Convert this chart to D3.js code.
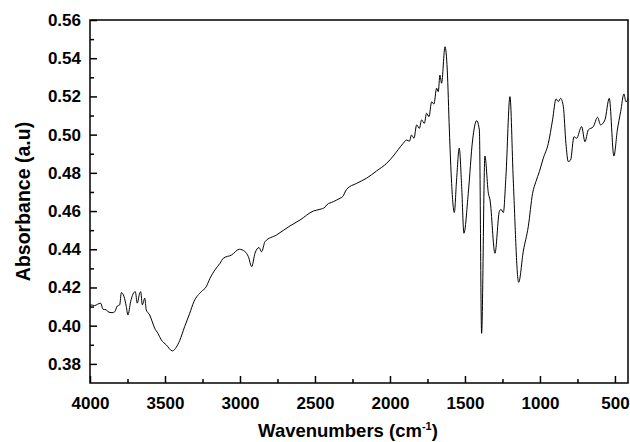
<!DOCTYPE html>
<html>
<head>
<meta charset="utf-8">
<script src="https://cdn.jsdelivr.net/npm/d3@7"></script>
<style>
  body { margin: 0; background: #fff; overflow: hidden; }
  svg { display: block; }
</style>
</head>
<body>
<svg id="chart" width="630" height="442"></svg>
<script>
// spectrum (wavenumber, cm-1 -> absorbance)
const wavenumbers = [4000, 3996, 3969, 3950, 3929, 3913, 3891, 3880, 3853, 3835, 3818, 3802, 3791, 3773, 3758, 3747,
  3729, 3713, 3698, 3685, 3669, 3662, 3651, 3635, 3625, 3602, 3585, 3569, 3547, 3525, 3491, 3451, 3425, 3402,
  3369, 3335, 3307, 3258, 3225, 3200, 3167, 3133, 3111, 3056, 3004, 2967, 2944, 2922, 2900, 2873, 2856, 2833,
  2756, 2667, 2600, 2511, 2467, 2433, 2422, 2378, 2333, 2316, 2289, 2222, 2156, 2089, 2022, 1978, 1944, 1911,
  1889, 1871, 1856, 1840, 1822, 1804, 1789, 1771, 1756, 1740, 1722, 1707, 1689, 1678, 1667, 1656, 1633, 1618,
  1604, 1589, 1571, 1556, 1538, 1522, 1507, 1478, 1449, 1422, 1404, 1389, 1367, 1344, 1333, 1300, 1271, 1260,
  1244, 1227, 1200, 1178, 1142, 1111, 1078, 1049, 1027, 1004, 978, 944, 916, 893, 878, 862, 844, 827, 811, 796,
  773, 756, 722, 700, 678, 644, 616, 596, 567, 538, 507, 484, 462, 440, 427, 411];
const absorbance = [0.4105, 0.4109, 0.4105, 0.4112, 0.4118, 0.4086, 0.4083, 0.4073, 0.4068, 0.4073, 0.4103, 0.4109,
  0.4173, 0.4152, 0.4100, 0.4056, 0.4126, 0.4166, 0.4178, 0.4118, 0.4170, 0.4178, 0.4109, 0.4144, 0.4083, 0.4056,
  0.4021, 0.3987, 0.3960, 0.3926, 0.3899, 0.3868, 0.3887, 0.3922, 0.3995, 0.4065, 0.4126, 0.4178, 0.4204, 0.4248,
  0.4292, 0.4327, 0.4353, 0.4370, 0.4400, 0.4388, 0.4361, 0.4309, 0.4379, 0.4409, 0.4387, 0.4440, 0.4475, 0.4522,
  0.4553, 0.4600, 0.4609, 0.4620, 0.4632, 0.4649, 0.4667, 0.4675, 0.4714, 0.4745, 0.4772, 0.4810, 0.4850, 0.4888,
  0.4923, 0.4955, 0.4972, 0.4965, 0.4998, 0.4981, 0.5051, 0.5033, 0.5077, 0.5059, 0.5112, 0.5094, 0.5172, 0.5160,
  0.5243, 0.5225, 0.5312, 0.5269, 0.5460, 0.5338, 0.5024, 0.4745, 0.4592, 0.4763, 0.4929, 0.4728, 0.4484, 0.4693,
  0.4972, 0.5073, 0.5024, 0.3960, 0.4888, 0.4693, 0.4658, 0.4379, 0.4597, 0.4609, 0.4592, 0.4780, 0.5199, 0.4763,
  0.4227, 0.4390, 0.4518, 0.4693, 0.4754, 0.4806, 0.4876, 0.4955, 0.5077, 0.5187, 0.5173, 0.5190, 0.5146, 0.4955,
  0.4859, 0.4867, 0.4989, 0.4981, 0.5042, 0.4963, 0.5024, 0.5042, 0.5091, 0.5051, 0.5077, 0.5190, 0.4888, 0.5024,
  0.5120, 0.5213, 0.5172, 0.5190];

const xTicks = [4000, 3500, 3000, 2500, 2000, 1500, 1000, 500];
const xMinorTicks = [3750, 3250, 2750, 2250, 1750, 1250, 750];
const yTicks = [0.38, 0.40, 0.42, 0.44, 0.46, 0.48, 0.50, 0.52, 0.54, 0.56];
const yMinorTicks = [0.39, 0.41, 0.43, 0.45, 0.47, 0.49, 0.51, 0.53, 0.55];

const font = '"Liberation Sans", Arial, sans-serif';
const width = 630;
const height = 442;
const margin = {top: 20, right: 2, bottom: 59, left: 90};
const innerWidth = width - margin.left - margin.right;
const innerHeight = height - margin.top - margin.bottom;

const svg = d3.select("#chart");

const x = d3.scaleLinear().domain([4000, 413]).range([0, innerWidth]);
const y = d3.scaleLinear().domain([0.37, 0.56]).range([innerHeight, 0]);

const g = svg.append("g").attr("transform", `translate(${margin.left},${margin.top})`);

const data = wavenumbers.map((w, i) => ({w: w, a: absorbance[i]}));

const line = d3.line()
    .curve(d3.curveMonotoneX)
    .x(d => x(d.w))
    .y(d => y(d.a));

g.append("path")
    .datum(data)
    .attr("fill", "none")
    .attr("stroke", "#000")
    .attr("stroke-width", 1)
    .attr("stroke-linejoin", "round")
    .attr("d", line);

// minor ticks, inward, no labels
g.append("g")
    .attr("transform", `translate(0,${innerHeight})`)
    .call(d3.axisBottom(x).tickValues(xMinorTicks).tickSize(-4))
    .call(a => a.select(".domain").remove())
    .call(a => a.selectAll("text").remove())
    .selectAll("line").attr("stroke", "#000").attr("stroke-width", 1.5);

g.append("g")
    .call(d3.axisLeft(y).tickValues(yMinorTicks).tickSize(-4))
    .call(a => a.select(".domain").remove())
    .call(a => a.selectAll("text").remove())
    .selectAll("line").attr("stroke", "#000").attr("stroke-width", 1.5);

// major ticks + labels
const xAxis = g.append("g")
    .attr("transform", `translate(0,${innerHeight})`)
    .call(d3.axisBottom(x).tickValues(xTicks).tickSizeInner(-7).tickSizeOuter(0).tickPadding(14).tickFormat(d3.format("d")))
    .attr("font-family", font)
    .attr("font-size", 17)
    .attr("font-weight", "bold");
xAxis.select(".domain").remove();
xAxis.selectAll("line").attr("stroke", "#000").attr("stroke-width", 1.5);
xAxis.selectAll("text").attr("fill", "#000");

const yAxis = g.append("g")
    .call(d3.axisLeft(y).tickValues(yTicks).tickSizeInner(-7).tickSizeOuter(0).tickPadding(9).tickFormat(d3.format(".2f")))
    .attr("font-family", font)
    .attr("font-size", 17)
    .attr("font-weight", "bold");
yAxis.select(".domain").remove();
yAxis.selectAll("line").attr("stroke", "#000").attr("stroke-width", 1.5);
yAxis.selectAll("text").attr("fill", "#000");

// frame
g.append("rect")
    .attr("x", 0).attr("y", 0)
    .attr("width", innerWidth).attr("height", innerHeight)
    .attr("fill", "none")
    .attr("stroke", "#000")
    .attr("stroke-width", 1.5);

// axis titles
const xt = svg.append("text")
    .attr("text-anchor", "middle")
    .attr("x", 348)
    .attr("y", 437)
    .attr("font-family", font)
    .attr("font-weight", "bold")
    .attr("font-size", 18.5);
xt.append("tspan").text("Wavenumbers (cm");
xt.append("tspan").attr("dy", -7).attr("font-size", 11).text("-1");
xt.append("tspan").attr("dy", 7).text(")");

svg.append("text")
    .attr("text-anchor", "middle")
    .attr("transform", "rotate(-90)")
    .attr("x", -(margin.top + innerHeight / 2))
    .attr("y", 30)
    .attr("font-family", font)
    .attr("font-weight", "bold")
    .attr("font-size", 19.5)
    .text("Absorbance (a.u)");
</script>
</body>
</html>
